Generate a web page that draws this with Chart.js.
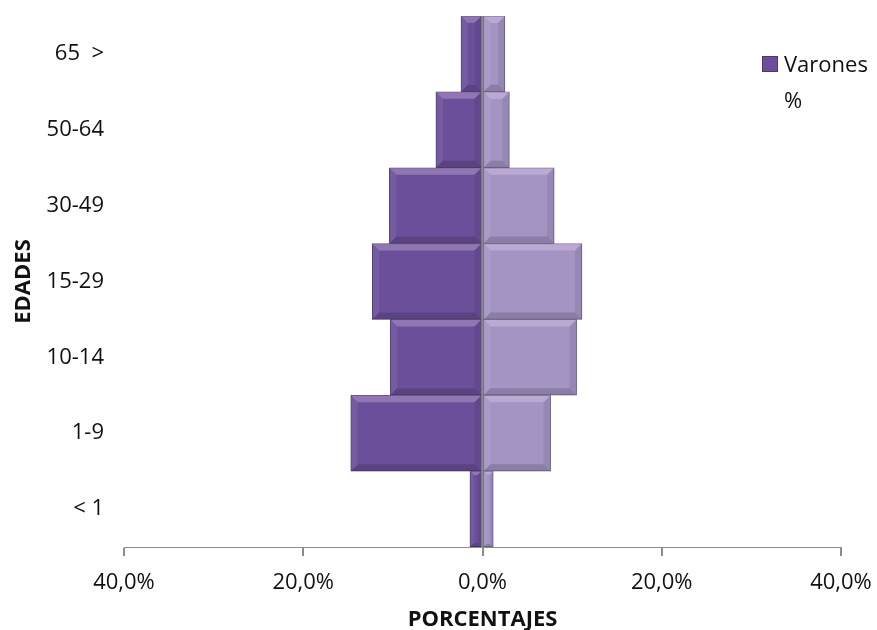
<!DOCTYPE html>
<html>
<head>
<meta charset="utf-8">
<script src="https://cdn.jsdelivr.net/npm/chart.js@4.4.0/dist/chart.umd.min.js"></script>
<style>
  html, body { margin: 0; padding: 0; background: #fff; }
  .wrap { position: relative; width: 877px; height: 630px; }
  .legend { position: absolute; left: 762px; top: 45px; font-family: 'Open Sans', sans-serif; font-size: 22px; color: #111; line-height: 36px; }
  .legend .box { display: inline-block; width: 14px; height: 14px; background: #6b4f9a; border: 1px solid #4a3a66; margin-right: 6px; vertical-align: 0px; }
  .legend .pct { padding-left: 22px; }
</style>
</head>
<body>
<div class="wrap">
  <canvas id="pyramid" width="877" height="630"></canvas>
  <div class="legend">
    <div><span class="box"></span>Varones</div>
    <div class="pct">%</div>
  </div>
</div>
<script>
const ageGroups = ['65  >', '50-64', '30-49', '15-29', '10-14', '1-9', '< 1'];
const varones = [2.4, 5.2, 10.4, 12.3, 10.3, 14.7, 1.4];
const mujeres = [2.5, 3.0, 8.0, 11.1, 10.5, 7.6, 1.2];
const xTicks = [-40, -20, 0, 20, 40];

const axisFont = { family: 'Open Sans', size: 22 };
const titleFont = { family: 'Open Sans', size: 22, weight: 'bold' };

// bevel look of the original bars, drawn on top of each bar element
const bevel = {
  id: 'bevel',
  afterDatasetsDraw(chart) {
    const ctx = chart.ctx;
    chart.data.datasets.forEach((ds, i) => {
      chart.getDatasetMeta(i).data.forEach(bar => {
        const p = bar.getProps(['x', 'y', 'base', 'height'], true);
        const l = Math.min(p.x, p.base), r = Math.max(p.x, p.base);
        const t = p.y - p.height / 2, b = p.y + p.height / 2;
        const d = Math.min(7, (r - l) / 3, (b - t) / 3);
        const poly = (pts, fill) => {
          ctx.beginPath();
          ctx.moveTo(pts[0][0], pts[0][1]);
          pts.slice(1).forEach(q => ctx.lineTo(q[0], q[1]));
          ctx.closePath();
          ctx.fillStyle = fill;
          ctx.fill();
        };
        ctx.save();
        poly([[l, t], [r, t], [r - d, t + d], [l + d, t + d]], 'rgba(255,235,255,0.25)');
        poly([[l, t], [l + d, t + d], [l + d, b - d], [l, b]], 'rgba(255,255,255,0.07)');
        poly([[l, b], [l + d, b - d], [r - d, b - d], [r, b]], 'rgba(0,0,0,0.15)');
        poly([[r, t], [r, b], [r - d, b - d], [r - d, t + d]], 'rgba(0,0,0,0.08)');
        ctx.restore();
      });
    });
  }
};

new Chart(document.getElementById('pyramid'), {
  type: 'bar',
  data: {
    labels: ageGroups,
    datasets: [
      {
        label: 'Varones %',
        data: varones.map(v => -v),
        backgroundColor: '#6b4f9a',
        borderColor: '#4a3a66',
        borderWidth: 1,
        borderSkipped: false,
        barPercentage: 1,
        categoryPercentage: 1
      },
      {
        label: 'Mujeres %',
        data: mujeres,
        backgroundColor: '#a394c4',
        borderColor: '#6e6088',
        borderWidth: 1,
        borderSkipped: false,
        barPercentage: 1,
        categoryPercentage: 1
      }
    ]
  },
  options: {
    responsive: false,
    animation: false,
    indexAxis: 'y',
    layout: { padding: { top: 16, right: 36, left: 0, bottom: 0 } },
    plugins: { legend: { display: false }, tooltip: { enabled: false } },
    scales: {
      x: {
        stacked: true,
        min: -40,
        max: 40,
        z: 1,
        afterBuildTicks: scale => { scale.ticks = xTicks.map(v => ({ value: v })); },
        afterFit: scale => { scale.height = 83; scale.paddingLeft = 0; scale.paddingRight = 0; },
        border: { display: true, color: '#8c8c8c', width: 1 },
        grid: {
          drawOnChartArea: true,
          color: ctx => (ctx.tick && ctx.tick.value === 0 ? '#8c8c8c' : 'rgba(0,0,0,0)'),
          lineWidth: 2,
          tickColor: '#8c8c8c',
          tickLength: 9
        },
        ticks: {
          color: '#111',
          font: axisFont,
          padding: 14,
          maxRotation: 0,
          callback: v => Math.abs(v).toFixed(1).replace('.', ',') + '%'
        },
        title: { display: true, text: 'PORCENTAJES', color: '#111', font: titleFont, padding: { top: 0, bottom: -3 } }
      },
      y: {
        stacked: true,
        afterFit: scale => { scale.width = 124; scale.paddingTop = 0; scale.paddingBottom = 0; },
        border: { display: false },
        grid: { display: false },
        ticks: { color: '#111', font: axisFont, padding: 12 },
        title: { display: true, text: 'EDADES', color: '#111', font: titleFont, padding: { top: 11, bottom: 0 } }
      }
    }
  },
  plugins: [bevel]
});
</script>
</body>
</html>
